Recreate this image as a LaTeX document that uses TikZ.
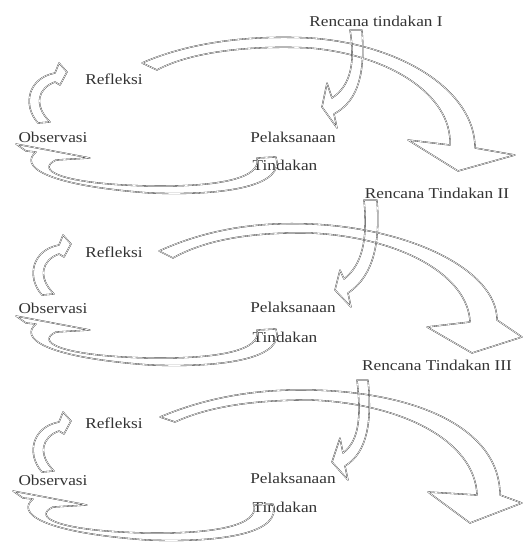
\documentclass[tikz,border=0pt]{standalone}
\usepackage{fontspec}
\newfontfamily\lblfont[FakeStretch=1.15]{Liberation Serif}
\begin{document}
\begin{tikzpicture}[x=1pt,y=-1pt,
  blk/.style={draw=black!80, line width=0.35pt, double=white, double distance=0.6pt, line join=round},
  lbl/.style={font=\lblfont\fontsize{15}{18}\selectfont, text=black!80, inner sep=0pt}]
\useasboundingbox (0,0) rectangle (525,543);

% ---------- texts ----------
\node[lbl] (r1) at (376,21) {Rencana tindakan I};
\node[lbl] (ref1) at (114,79) {Refleksi};
\node[lbl] (obs1) at (53,137) {Observasi};
\node[lbl] (pel1) at (293,137) {Pelaksanaan};
\node[lbl] (tin1) at (285,165) {Tindakan};
\node[lbl] (r2) at (437,193) {Rencana Tindakan II};
\node[lbl] (ref2) at (114,252) {Refleksi};
\node[lbl] (obs2) at (53,308) {Observasi};
\node[lbl] (pel2) at (293,307) {Pelaksanaan};
\node[lbl] (tin2) at (285,337) {Tindakan};
\node[lbl] (r3) at (437,365) {Rencana Tindakan III};
\node[lbl] (ref3) at (114,423) {Refleksi};
\node[lbl] (obs3) at (53,480) {Observasi};
\node[lbl] (pel3) at (293,478) {Pelaksanaan};
\node[lbl] (tin3) at (285,507) {Tindakan};

% ---------- big arrows ----------
\draw[blk] (142,63) .. controls (190,42) and (250,35) .. (310,38)
  .. controls (400,44) and (475,90) .. (475,148)
  -- (515,155) -- (458,171) -- (408,140) -- (450,145)
  .. controls (452,95) and (390,55) .. (310,48)
  .. controls (250,45) and (190,52) .. (157,70) -- cycle;
\draw[blk] (159,251) .. controls (210,228) and (260,222) .. (310,224)
  .. controls (410,228) and (497,270) .. (497,320)
  -- (522,337) -- (472,353) -- (427,327) -- (470,322)
  .. controls (468,275) and (400,237) .. (310,233)
  .. controls (250,232) and (205,240) .. (173,258) -- cycle;
\draw[blk] (160,417) .. controls (210,396) and (260,389) .. (310,390)
  .. controls (420,392) and (500,430) .. (500,495)
  -- (522,503) -- (470,523) -- (428,492) -- (477,495)
  .. controls (475,440) and (400,403) .. (310,400)
  .. controls (255,400) and (210,406) .. (175,422) -- cycle;

% ---------- down arrows ----------
\draw[blk] (350,30) .. controls (355,60) and (352,85) .. (332,98)
  -- (327,83) -- (322,107) -- (337,128) -- (334,114)
  .. controls (360,100) and (365,70) .. (362,30) -- cycle;
\draw[blk] (364,200) .. controls (368,240) and (362,265) .. (344,279)
  -- (340,270) -- (335,290) -- (351,307) -- (348,293)
  .. controls (375,275) and (380,240) .. (377,200) -- cycle;
\draw[blk] (357,380) .. controls (361,415) and (360,440) .. (343,453)
  -- (340,438) -- (332,462) -- (348,480) -- (345,466)
  .. controls (368,452) and (372,420) .. (368,380) -- cycle;

% ---------- small arrows ----------
\foreach \dx/\dy in {0/0, 4/172, 4/349}{
\begin{scope}[shift={(\dx,\dy)}]
\draw[blk] (38,123) .. controls (22,105) and (28,78) .. (55,73)
  -- (59,63) -- (67,72) -- (60,85) -- (55,82)
  .. controls (38,88) and (33,105) .. (50,122) -- cycle;
\end{scope}}

% ---------- bottom arrows ----------
\foreach \dx/\dy in {0/0, 0/172, -3/347}{
\begin{scope}[shift={(\dx,\dy)}]
\draw[blk] (16,144) -- (26,151) -- (36,152)
  .. controls (20,165) and (40,185) .. (150,193)
  .. controls (230,196) and (285,185) .. (276,157)
  -- (257,158)
  .. controls (262,178) and (220,187) .. (150,186)
  .. controls (60,184) and (35,170) .. (56,160)
  -- (90,158) -- cycle;
\end{scope}}
\end{tikzpicture}
\end{document}
